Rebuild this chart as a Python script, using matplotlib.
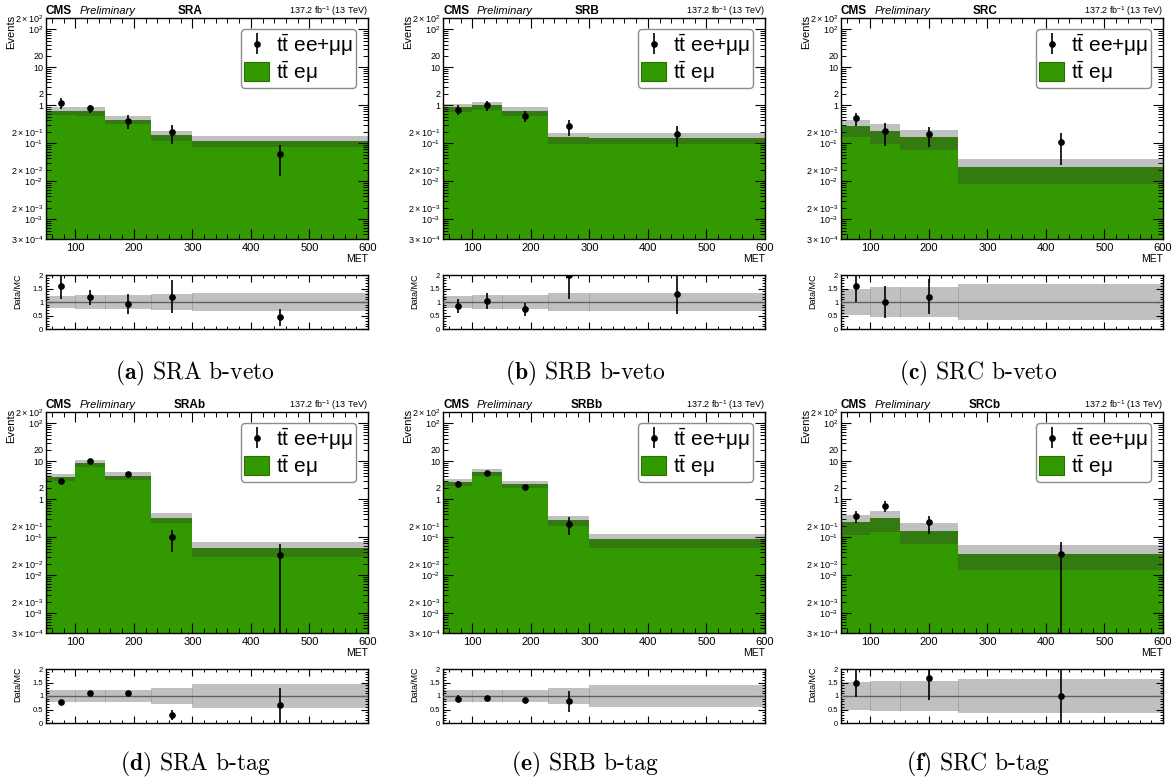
import numpy as np
import matplotlib
matplotlib.use('Agg')
import matplotlib.pyplot as plt
from matplotlib.patches import Patch
from matplotlib.ticker import FixedLocator, MultipleLocator, FuncFormatter, LogLocator

plt.rcParams['font.family'] = 'Liberation Sans'
plt.rcParams['mathtext.fontset'] = 'custom'
plt.rcParams['mathtext.rm'] = 'Liberation Sans'
plt.rcParams['mathtext.it'] = 'Liberation Sans:italic'
plt.rcParams['mathtext.bf'] = 'Liberation Sans:bold'

# binning (MET)
sra_edges = [50, 100, 150, 230, 300, 600]
src_edges = [50, 100, 150, 250, 600]

# SRA b-veto
sra_mc = [0.73, 0.71, 0.42, 0.164, 0.116]
sra_unc = [0.22, 0.25, 0.25, 0.30, 0.32]
sra_x = [75, 125, 190, 265, 450]
sra_data = [1.17, 0.83, 0.39, 0.196, 0.051]
sra_err = [0.37, 0.19, 0.15, 0.10, 0.037]

# SRB b-veto
srb_mc = [0.90, 1.00, 0.72, 0.143, 0.14]
srb_unc = [0.24, 0.26, 0.26, 0.33, 0.33]
srb_x = [75, 125, 190, 265, 450]
srb_data = [0.77, 1.03, 0.525, 0.285, 0.18]
srb_err = [0.22, 0.30, 0.165, 0.125, 0.10]

# SRC b-veto
src_mc = [0.28, 0.209, 0.145, 0.024]
src_unc = [0.49, 0.55, 0.55, 0.65]
src_x = [75, 125, 200, 425]
src_data = [0.45, 0.209, 0.174, 0.105]
src_err = [0.17, 0.125, 0.093, 0.078]

# SRA b-tag
srab_mc = [3.9, 9.0, 4.2, 0.33, 0.052]
srab_unc = [0.22, 0.22, 0.22, 0.29, 0.43]
srab_x = [75, 125, 190, 265, 450]
srab_data = [3.04, 10.1, 4.66, 0.10, 0.034]
srab_err = [0.35, 0.40, 0.22, 0.058, 0.034]

# SRB b-tag
srbb_mc = [2.88, 5.3, 2.48, 0.277, 0.089]
srbb_unc = [0.22, 0.22, 0.22, 0.30, 0.40]
srbb_x = [75, 125, 190, 265]
srbb_data = [2.59, 4.95, 2.15, 0.222]
srbb_err = [0.38, 0.42, 0.17, 0.11]

# SRC b-tag
srcb_mc = [0.25, 0.32, 0.148, 0.037]
srcb_unc = [0.53, 0.56, 0.56, 0.64]
srcb_x = [75, 125, 200, 425]
srcb_data = [0.37, 0.68, 0.245, 0.037]
srcb_err = [0.13, 0.21, 0.12, 0.04]

titles = ['SRA', 'SRB', 'SRC', 'SRAb', 'SRBb', 'SRCb']
captions = [('(a)', 'SRA b-veto'), ('(b)', 'SRB b-veto'), ('(c)', 'SRC b-veto'),
            ('(d)', 'SRA b-tag'), ('(e)', 'SRB b-tag'), ('(f)', 'SRC b-tag')]

panels = [
    (sra_edges, sra_mc, sra_unc, sra_x, sra_data, sra_err),
    (sra_edges, srb_mc, srb_unc, srb_x, srb_data, srb_err),
    (src_edges, src_mc, src_unc, src_x, src_data, src_err),
    (sra_edges, srab_mc, srab_unc, srab_x, srab_data, srab_err),
    (sra_edges, srbb_mc, srbb_unc, srbb_x, srbb_data, srbb_err),
    (src_edges, srcb_mc, srcb_unc, srcb_x, srcb_data, srcb_err),
]

GREEN = '#339900'
W, H = 1174, 780

col_left = [46, 443, 841]
col_center = [195, 585, 978]
main_top = [18, 412]
ratio_top = [275, 669]
caption_base = [379, 770]
ax_w, main_h, ratio_h = 322, 221, 54


def px_axes(fig, left, top, w, h):
    return fig.add_axes([left / W, 1 - (top + h) / H, w / W, h / H])


def log_label(v, pos):
    e = int(np.floor(np.log10(v) + 1e-9))
    m = int(round(v / 10**e))
    if e in (0, 1):
        return str(int(round(v)))
    if m == 1:
        return r'$10^{%d}$' % e
    return r'$%d\times10^{%d}$' % (m, e)


def minor_label(v, pos):
    e = int(np.floor(np.log10(v) + 1e-9))
    m = int(round(v / 10**e))
    if m == 2 or (m == 3 and e == -4):
        return log_label(v, pos)
    return ''


ymin, ymax = 3e-4, 2e2
minor_vals = [m * 10.0**e for e in range(-4, 3) for m in range(2, 10)]
minor_vals = [v for v in minor_vals if ymin * 0.999 <= v <= ymax * 1.001]

fig = plt.figure(figsize=(W / 100, H / 100), dpi=100)

for i, (edges, mc, unc, x, data, err) in enumerate(panels):
    row, col = divmod(i, 3)
    mc = np.array(mc)
    unc = np.array(unc)
    data = np.array(data)
    err = np.array(err)

    ax = px_axes(fig, col_left[col], main_top[row], ax_w, main_h)
    ax.set_yscale('log')
    ax.stairs(mc, edges, baseline=1e-6, fill=True, color=GREEN, zorder=1)
    ax.stairs(mc * (1 + unc), edges, baseline=mc * (1 - unc), fill=True,
              color=(0.21, 0.21, 0.21), alpha=0.31, lw=0, zorder=2)
    eb = ax.errorbar(x, data, yerr=err, fmt='o', color='black', ms=3.8,
                     elinewidth=1.2, capsize=0, zorder=5)
    ax.set_xlim(50, 600)
    ax.set_ylim(ymin, ymax)
    ax.xaxis.set_major_locator(MultipleLocator(100))
    ax.xaxis.set_minor_locator(MultipleLocator(20))
    ax.yaxis.set_major_locator(LogLocator(base=10, numticks=20))
    ax.yaxis.set_major_formatter(FuncFormatter(log_label))
    ax.yaxis.set_minor_locator(FixedLocator(minor_vals))
    ax.yaxis.set_minor_formatter(FuncFormatter(minor_label))
    ax.tick_params(which='both', direction='in', top=True, right=True, pad=3)
    ax.tick_params(axis='x', which='both', labelsize=8)
    ax.tick_params(axis='y', which='both', labelsize=6.5, pad=2)
    ax.tick_params(which='major', length=7, width=0.8)
    ax.tick_params(which='minor', length=3.5, width=0.7)
    for s in ax.spines.values():
        s.set_linewidth(1.0)

    ax.text(-35 / ax_w, 1 + 3 / main_h, 'Events', rotation=90, ha='center',
            va='top', fontsize=8, transform=ax.transAxes)
    ax.text(1.0, -15 / main_h, 'MET', ha='right', va='top', fontsize=7.5,
            transform=ax.transAxes)
    yb = 1 + 4 / main_h
    ax.text(0.0, yb, 'CMS', fontweight='bold', fontsize=8.5, ha='left',
            va='baseline', transform=ax.transAxes)
    ax.text(34 / ax_w, yb, 'Preliminary', style='italic', fontsize=8,
            ha='left', va='baseline', transform=ax.transAxes)
    ax.text(0.447, yb, titles[i], fontweight='bold', fontsize=8.5,
            ha='center', va='baseline', transform=ax.transAxes)
    ax.text(1.0, yb, r'137.2 fb$^{-1}$ (13 TeV)', fontsize=6.5, ha='right',
            va='baseline', transform=ax.transAxes)

    handles = [eb, Patch(facecolor=GREEN, edgecolor='#2b6f00', lw=0.8)]
    labels = [r'$\mathrm{t\bar{t}}$ ee+μμ', r'$\mathrm{t\bar{t}}$ eμ']
    leg = ax.legend(handles, labels, loc='upper right',
                    bbox_to_anchor=(0.963, 0.95), borderaxespad=0,
                    fontsize=15, handlelength=1.2, handleheight=1.0,
                    handletextpad=0.3, borderpad=0.15, labelspacing=0.03,
                    fancybox=True, framealpha=1)
    leg.get_frame().set_edgecolor('#8c8c8c')
    leg.get_frame().set_linewidth(1.0)

    # ratio panel
    rx = px_axes(fig, col_left[col], ratio_top[row], ax_w, ratio_h)
    rx.stairs(1 + unc, edges, baseline=1 - unc, fill=True, color='#c0c0c0',
              lw=0, zorder=1)
    inner = np.array(edges[1:-1])
    umin = np.minimum(unc[:-1], unc[1:])
    rx.vlines(inner, 1 - umin, 1 + umin, color='#a0a0a0', lw=0.6, zorder=2)
    rx.axhline(1.0, color='#606060', lw=1.0, zorder=3)
    mc_at = mc[np.searchsorted(edges, x) - 1]
    ratio = data / mc_at
    rerr = err / mc_at
    keep = (ratio >= 0) & (ratio <= 2)
    rx.errorbar(np.array(x)[keep], ratio[keep], yerr=rerr[keep], fmt='o',
                color='black', ms=3.8, elinewidth=1.2, capsize=0, zorder=5)
    rx.set_xlim(50, 600)
    rx.set_ylim(0, 2)
    rx.xaxis.set_major_locator(MultipleLocator(100))
    rx.xaxis.set_minor_locator(MultipleLocator(20))
    rx.yaxis.set_major_locator(MultipleLocator(0.5))
    rx.yaxis.set_minor_locator(MultipleLocator(0.1))
    rx.yaxis.set_major_formatter(FuncFormatter(lambda v, p: '%g' % v))
    rx.set_xticklabels([])
    rx.tick_params(which='both', direction='in', top=True, right=True,
                   labelsize=5.5, pad=2)
    rx.tick_params(which='major', length=5, width=0.8)
    rx.tick_params(which='minor', length=2.5, width=0.7)
    for s in rx.spines.values():
        s.set_linewidth(1.0)
    rx.text(-28 / ax_w, 1 + 2 / ratio_h, 'Data/MC', rotation=90, ha='center',
            va='top', fontsize=6.5, transform=rx.transAxes)

    # caption
    letter, text = captions[i]
    fig.text(col_center[col] / W, 1 - caption_base[row] / H,
             r'$\mathbf{%s}$ %s' % (letter, text), fontfamily='cmr10',
             math_fontfamily='cm', fontsize=17, ha='center', va='baseline')

fig.savefig('out.png', dpi=100)
